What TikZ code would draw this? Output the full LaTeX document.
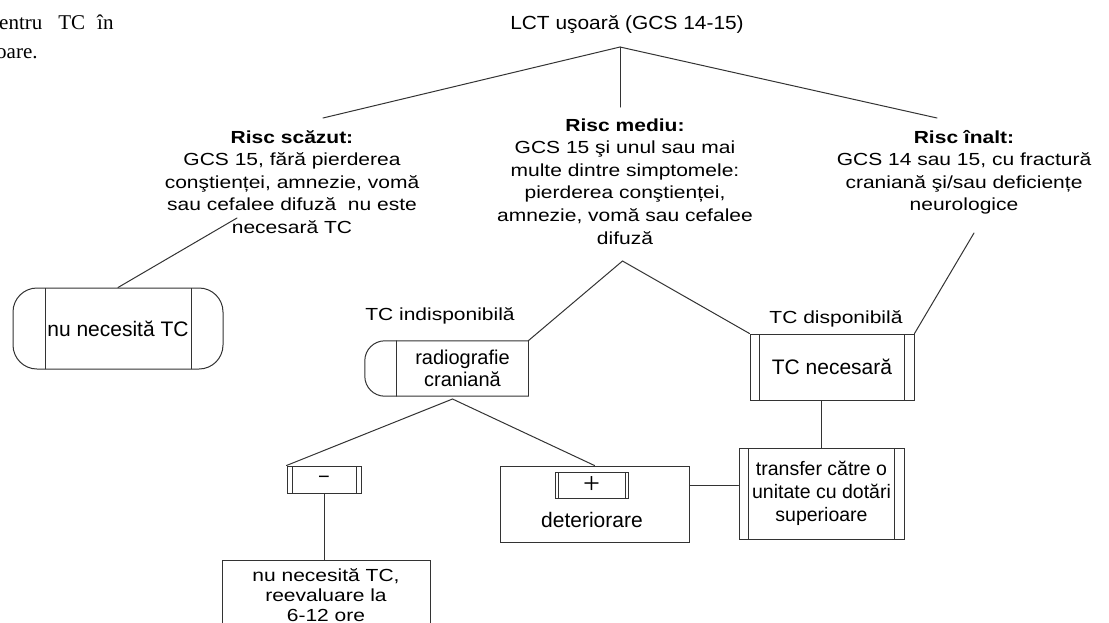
\documentclass[tikz,border=0pt]{standalone}
\usepackage{fontspec}
\setmainfont{Liberation Sans}
\newfontfamily\plainsans{Liberation Sans}
\newfontfamily\widesans{Liberation Sans}[FakeStretch=1.2]
\newfontfamily\titlesans{Liberation Sans}[FakeStretch=1.1]
\newfontfamily\bodyserif{Liberation Serif}
\begin{document}
\begin{tikzpicture}[x=1pt,y=-1pt,
  ink/.style={draw=black!80, line width=1pt, line cap=round},
  lbl/.style={inner sep=0pt, align=center, anchor=base},
  risk/.style={font=\widesans\fontsize{17.5}{22.6}\selectfont},
  branch/.style={font=\widesans\fontsize{17.5}{21}\selectfont},
  boxtext/.style={font=\plainsans\fontsize{21}{24}\selectfont},
  bars/.style={path picture={
    \draw[ink] ([xshift=#1]path picture bounding box.north west) -- ([xshift=#1]path picture bounding box.south west);
    \draw[ink] ([xshift=-#1]path picture bounding box.north east) -- ([xshift=-#1]path picture bounding box.south east);}},
  box/.style={ink, rectangle, inner sep=0pt, align=center}
]
\useasboundingbox (0,0) rectangle (1109,622);

% caption fragment at the upper left
\node[anchor=base west, inner sep=0pt, font=\bodyserif\fontsize{21}{29}\selectfont] (cap1) at (-1,29) {entru\hspace{16pt}TC\hspace{12pt}în};
\node[anchor=base west, inner sep=0pt, font=\bodyserif\fontsize{21}{29}\selectfont] (cap2) at (-4,58) {oare.};

% title and the three risk groups (positions give the baseline of the last line)
\node[lbl, font=\titlesans\fontsize{19}{23}\selectfont] (title) at (627,29) {LCT uşoară (GCS 14-15)};
\node[lbl, risk] (low) at (292,233.4) {\textbf{Risc scăzut:}\\GCS 15, fără pierderea\\conştienței, amnezie, vomă\\sau cefalee difuză\ \ nu este\\necesară TC};
\node[lbl, risk] (mid) at (625,244) {\textbf{Risc mediu:}\\GCS 15 şi unul sau mai\\multe dintre simptomele:\\pierderea conştienței,\\amnezie, vomă sau cefalee\\difuză};
\node[lbl, risk] (high) at (964,210.8) {\textbf{Risc înalt:}\\GCS 14 sau 15, cu fractură\\craniană şi/sau deficiențe\\neurologice};

% junctions and free line ends
\coordinate (j0) at (620,47);
\coordinate (j1) at (622.5,261);
\coordinate (j2) at (452.5,399);
\coordinate (lowtop) at (323,118);
\coordinate (midtop) at (620,107);
\coordinate (hightop) at (937,118);
\coordinate (lowfoot) at (237,218);
\coordinate (highfoot) at (974,233);

% outcome boxes
\node[box, rounded corners=24pt, minimum width=210pt, minimum height=81pt, bars=32pt, boxtext] (skip) at (118,328.5) {nu necesită TC};

\node[inner sep=0pt, minimum width=163pt, minimum height=55pt] (rad) at (446.5,368.5) {};
\draw[ink, rounded corners=20pt] (rad.north east) -- (rad.north west) -- (rad.south west) -- (rad.south east);
\draw[ink] (rad.north east) -- (rad.south east);
\draw[ink] ([xshift=32pt]rad.north west) -- ([xshift=32pt]rad.south west);
\node[lbl, font=\plainsans\fontsize{20}{22}\selectfont] (radtxt) at (462.5,386) {radiografie\\craniană};

\node[lbl, branch] (nocttxt) at (440,320) {TC indisponibilă};
\node[lbl, branch] (cttxt) at (836,323) {TC disponibilă};

\node[box, minimum width=164pt, minimum height=66pt, bars=9.5pt, boxtext] (ct) at (832,367) {TC necesară};

\node[box, minimum width=165pt, minimum height=91pt, bars=9.5pt, font=\plainsans\fontsize{19.5}{23.3}\selectfont] (trans) at (821.5,493.5) {transfer către o\\unitate cu dotări\\superioare};

\node[box, minimum width=189pt, minimum height=76pt] (det) at (594.5,504) {};
\node[box, minimum width=73pt, minimum height=26pt, bars=3pt, font=\bodyserif\fontsize{30}{30}\selectfont] (plus) at (591.5,485) {+};
\node[lbl, boxtext] (dettxt) at (592,527) {deteriorare};

\node[box, minimum width=74pt, minimum height=27pt, bars=5pt, font=\plainsans\fontsize{20}{20}\selectfont] (minus) at (324,479.5) {−};

\node[box, minimum width=208pt, minimum height=90pt] (recheck) at (326,605) {};
\node[lbl, font=\widesans\fontsize{17.5}{20}\selectfont] (rechecktxt) at (326,621.7) {nu necesită TC,\\reevaluare la\\6-12 ore};

% connectors
\draw[ink] (lowtop) -- (j0) -- (hightop);
\draw[ink] (j0) -- (midtop);
\draw[ink] (lowfoot) -- (skip.north);
\draw[ink] (rad.north east) -- (j1) -- (ct.north west);
\draw[ink] (highfoot) -- (ct.north east);
\draw[ink] (minus.north west) -- (j2) -- (det.north);
\draw[ink] (minus.south) -- (minus.south |- recheck.north);
\draw[ink] (plus -| det.east) -- (plus -| trans.west);
\draw[ink] (trans.north) -- (trans.north |- ct.south);
\end{tikzpicture}
\end{document}
